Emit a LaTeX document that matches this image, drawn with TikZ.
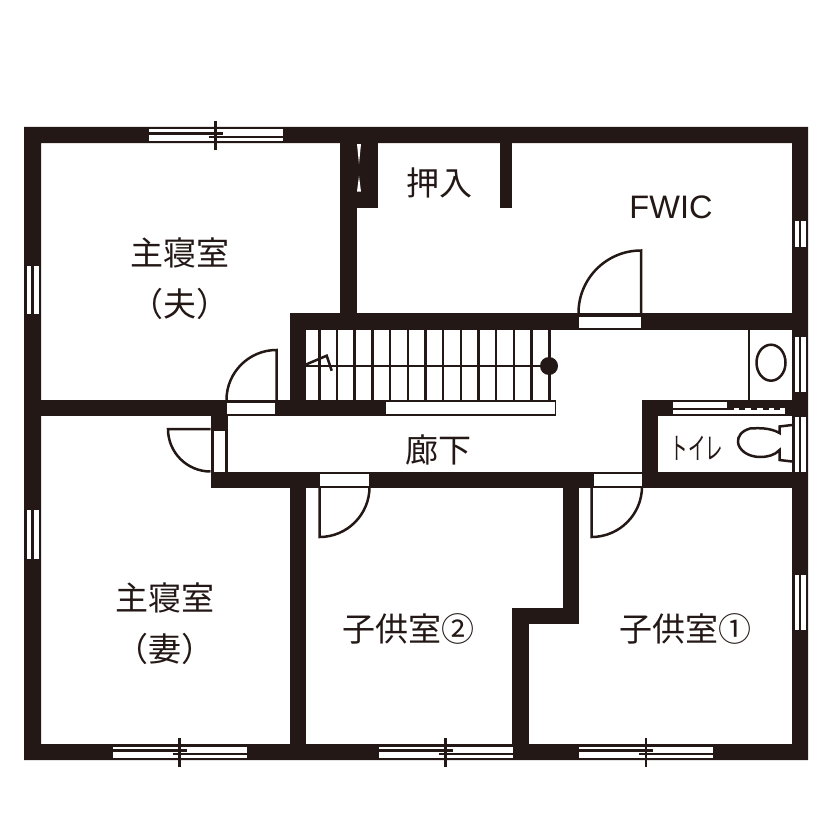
\documentclass[tikz,border=0pt]{standalone}
\usepackage{graphicx}
\usepackage{fontspec}
\setmainfont{Noto Sans CJK JP}
\setsansfont{Liberation Sans}
\definecolor{ink}{HTML}{231815}
\tikzset{
    wall/.style={fill=ink},
    opening/.style={fill=white},
    thin line/.style={draw=ink,line width=2.5pt},
    room/.style={text=ink,font=\fontsize{33}{33}\selectfont,inner sep=0pt},
}
\begin{document}
\begin{tikzpicture}[x=1pt,y=-1pt]
    \useasboundingbox (0,0) rectangle (840,840);
    \fill[white] (0,0) rectangle (840,840);
    % walls
    \fill[wall,even odd rule] (24,127) rectangle (808,760) (41,143) rectangle (792,744);
    \fill[wall] (340,143) rectangle (356.5,313);
    \fill[wall] (340,143) rectangle (378,208);
    \fill[wall] (499.5,143) rectangle (512,208);
    \fill[wall] (289.5,313) rectangle (808,330);
    \fill[wall] (289.5,313) rectangle (306,416);
    \fill[wall] (24,400) rectangle (385,416);
    \fill[wall] (385,399.5) rectangle (556,416);
    \fill[wall] (210.5,400) rectangle (227.5,488);
    \fill[wall] (210.5,472) rectangle (808,488);
    \fill[wall] (641.5,399.5) rectangle (808,416);
    \fill[wall] (641.5,399.5) rectangle (658,488);
    \fill[wall] (289.5,488) rectangle (306,744);
    \fill[wall] (562.5,488) rectangle (579,624);
    \fill[wall] (512,607.5) rectangle (579,624);
    \fill[wall] (512,607.5) rectangle (529,760);
    % openings
    \fill[opening] (385.5,402) rectangle (555,414);
    \fill[opening] (227,403) rectangle (275,414);
    \fill[opening] (213.5,430.5) rectangle (224.5,472);
    \fill[opening] (320,474) rectangle (368.5,485.5);
    \fill[opening] (593.5,474) rectangle (641.5,485.5);
    \fill[opening] (579,316.5) rectangle (641,327.5);
    \fill[opening] (672.5,402) rectangle (727,407.7);
    \fill[opening] (672.5,407.7) rectangle (784.5,414);
    \draw[thin line] (672.5,409.2) -- (734,409.2);
    \foreach \x in {0,1,2,3}{
        \draw[thin line] (739+\x*11.8,409.2) -- (745+\x*11.8,409.2);
    }
    \fill[opening] (357,144) -- (361,144) -- (359,164) -- cycle;
    \fill[opening] (357,191.5) -- (361,191.5) -- (359,176) -- cycle;
    % side windows
    \foreach \y/\h in {337/55,416.5/55,221/26,574.5/55}{
        \fill[opening] (794.5,\y) rectangle (806,\y+\h);
        \draw[thin line] (800.2,\y) -- (800.2,\y+\h);
    }
    \foreach \y in {265.5,510}{
        \fill[opening] (26.5,\y) rectangle (38.5,\y+48.5);
        \draw[thin line] (32.5,\y) -- (32.5,\y+48.5);
    }
    % front windows
    \foreach \x/\y in {148.5/129.5,112.5/746.5,378.5/746.5,579/746.5}{
        \fill[opening] (\x,\y) rectangle (\x+134,\y+11.5);
        \draw[thin line] (\x,\y+4) -- (\x+74,\y+4);
        \draw[thin line] (\x+60,\y+7.5) -- (\x+134,\y+7.5);
        \draw[thin line] (\x+67,\y-8.5) -- (\x+67,\y+20);
    }
    % stairs
    \foreach \i in {0,...,13}{
        \draw[thin line] (319.3+\i*17.69,330) -- (319.3+\i*17.69,400);
    }
    \draw[thin line] (306,366) -- (549,366);
    \fill[ink] (549,366) circle (9);
    \draw[thin line] (306,364.5) -- (326.7,355.7) -- (331.7,370.7);
    % doors
    \draw[thin line] (226.5,400) arc[start angle=180,end angle=270,radius=50] -- (276.5,400);
    \draw[thin line] (578.5,313) arc[start angle=180,end angle=270,radius=62.5] -- (641,313);
    \draw[thin line] (210.5,429) -- (168,429) arc[start angle=180,end angle=90,radius=42.5];
    \draw[thin line] (319.5,486) -- (319.5,537) arc[start angle=90,end angle=0,radius=50];
    \draw[thin line] (591.5,486) -- (591.5,537) arc[start angle=90,end angle=0,radius=50.5];
    % wash basin and toilet
    \draw[thin line] (749,330) -- (749,400);
    \draw[thin line] (771,362.7) ellipse (14.5 and 18);
    \draw[thin line] (792,425) -- (779.5,426.5) -- (779.5,433) .. controls (770,427.5) and (758,428) .. (750,428.5) .. controls (741,431) and (737.5,437) .. (738,442) .. controls (738.5,450) and (748,457) .. (760,457) .. controls (768,457) and (775,455) .. (779.5,450) -- (779.5,460) -- (792,461.5);
    % labels
    \node[room] (bedA) at (180,253) {主寝室};
    \node[room] (bedAsub) at (180,304) {（夫）};
    \node[room] (closet) at (439,183) {押入};
    \node[room,font=\sffamily\fontsize{32.5}{32.5}\selectfont] (fwic) at (671,207) {FWIC};
    \node[room] (hall) at (438,450) {廊下};
    \node[room,font=\fontsize{30}{30}\selectfont] (wc) at (697,448) {\scalebox{0.58}[1]{トイレ}};
    \node[room] (bedB) at (165,598) {主寝室};
    \node[room] (bedBsub) at (165,649) {（妻）};
    \node[room] (kidB) at (408,629) {子供室②};
    \node[room] (kidA) at (685,629) {子供室①};
\end{tikzpicture}
\end{document}
